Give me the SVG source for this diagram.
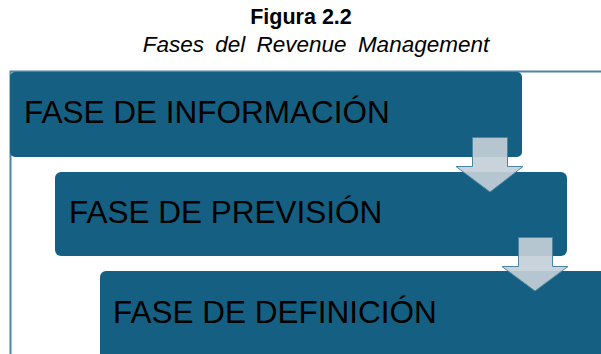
<svg xmlns="http://www.w3.org/2000/svg" width="601" height="354" viewBox="0 0 601 354">
<style>
.box{fill:#156082}
.lbl{font-family:"Liberation Sans",Arial,sans-serif;font-size:31.5px;fill:#000}
.arrow{fill:#c4cfd8;fill-opacity:0.92;stroke:#4d86a5;stroke-width:1}
.frame{stroke:#4d86a5;stroke-width:2;fill:none}
</style>
<rect width="601" height="354" fill="#fff"/>
<text x="301" y="24" text-anchor="middle" font-family="Liberation Sans, Arial, sans-serif" font-size="21.5" font-weight="bold">Figura 2.2</text>
<text x="316" y="52" text-anchor="middle" font-family="Liberation Sans, Arial, sans-serif" font-size="22.5" font-style="italic" word-spacing="5">Fases del Revenue Management</text>
<path class="frame" d="M601 71.5H10.5V354"/>
<g id="node1"><rect class="box" x="10" y="72" width="512" height="85" rx="5"/><text class="lbl" x="24" y="123">FASE DE INFORMACIÓN</text></g>
<g id="node2"><rect class="box" x="55" y="172" width="512" height="84" rx="6"/><text class="lbl" x="69" y="223">FASE DE PREVISIÓN</text></g>
<g id="node3"><rect class="box" x="100" y="271" width="520" height="100" rx="6"/><text class="lbl" x="113" y="323">FASE DE DEFINICIÓN</text></g>
<g id="connectors">
<path class="arrow" d="M472.5 137.5H507.5V166.5H523L490 192L456 166.5H472.5Z"/>
<path class="arrow" d="M518.5 237.5H552.5V266.5H568L535 291L502 266.5H518.5Z"/>
</g>
</svg>
